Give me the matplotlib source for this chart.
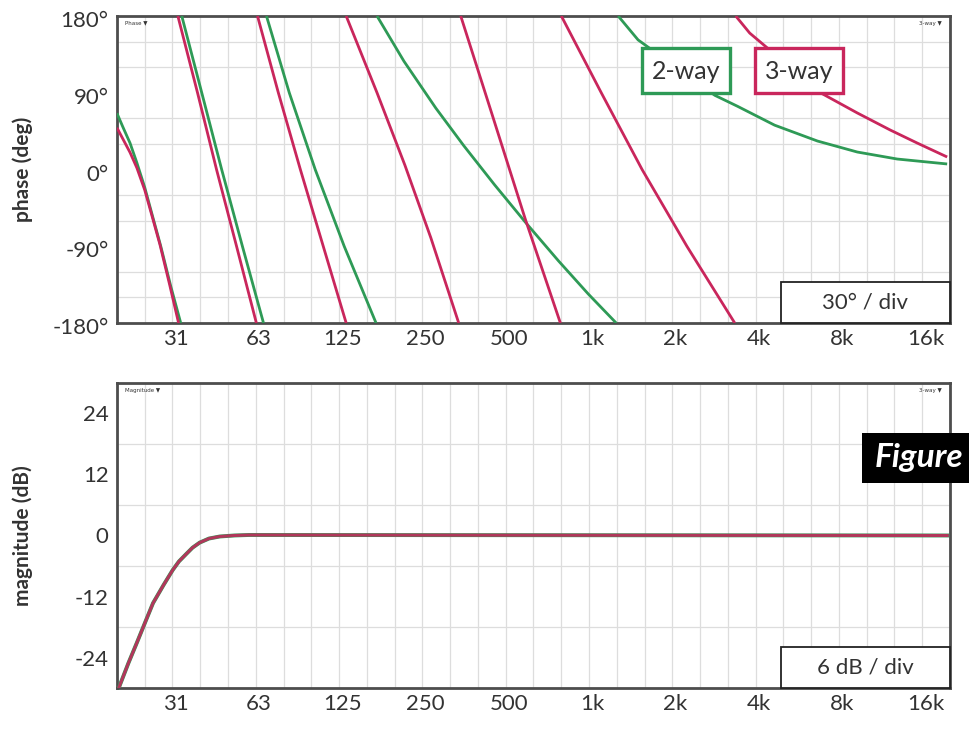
import matplotlib.pyplot as plt
from matplotlib.patches import Rectangle
from matplotlib.ticker import NullFormatter
from matplotlib.transforms import ScaledTranslation

plt.rcParams['font.family'] = ['Lato', 'DejaVu Sans']

GREEN = '#2e9a56'
RED = '#c9265c'
INK = '#333333'
FRAME = '#4d4d4d'

# octave ticks along the frequency axis
tick_freqs = [31.25, 62.5, 125, 250, 500, 1000, 2000, 4000, 8000, 16000]
tick_labels = ['31', '63', '125', '250', '500', '1k', '2k', '4k', '8k', '16k']

# wrapped phase, one (freq Hz, deg) pair of lists per branch
phase_2way = [
    ([20.0, 21.0, 22.3, 23.6, 25.2, 26.7, 28.8, 31.3, 34.0],
     [66, 50, 31, 8, -21, -51, -90, -137, -180]),
    ([34.3, 40.5, 47.8, 56.8, 67.7], [180, 90, 0, -90, -180]),
    ([69.4, 83.9, 104.1, 132.5, 172.7], [180, 90, 0, -90, -180]),
    ([174.1, 217.8, 284, 358.2, 463.2, 599, 787.4, 1010, 1274],
     [180, 127, 72, 28, -18, -62, -107, -146, -180]),
    ([1295, 1528, 2894, 3502, 4760, 6798, 9472, 13200, 20000],
     [180, 152, 87, 74, 52, 33.4, 20.5, 12.3, 6.5]),
]
phase_3way = [
    ([20.0, 21.0, 22.3, 23.6, 25.2, 26.7, 28.6, 31.0, 33.4],
     [49, 36, 20, 2, -24, -53, -88, -135, -180]),
    ([33.2, 39.1, 45.8, 54.1, 63.8], [180, 90, 0, -90, -180]),
    ([64.4, 76.6, 92.0, 111.3, 134.7], [180, 90, 0, -90, -180]),
    ([134.7, 174.1, 219.6, 272.4, 343.6], [180, 90, 5, -80, -180]),
    ([349.4, 448, 599, 800.6], [180, 70, -59, -180]),
    ([807, 1125, 1580, 2294, 3416], [180, 90, 0, -90, -180]),
    ([3444, 3868, 6970, 9472, 12456, 15576, 20000],
     [180, 160, 90, 66.3, 46.3, 31.1, 14.7]),
]

# magnitude (same for both systems)
mag_freq = [20.3, 22.0, 23.6, 25.5, 27.0, 29.5, 31.8, 33.5, 35.5, 37.5, 39.8,
            43.0, 47.0, 53.0, 60.0, 20000]
mag_db = [-30, -25.1, -21.1, -16.6, -13.3, -9.7, -6.8, -5.1, -3.7, -2.4, -1.4,
          -0.6, -0.2, 0.0, 0.1, 0.0]

phase_ticks = [-180, -90, 0, 90, 180]
mag_ticks = [-24, -12, 0, 12, 24]

fig = plt.figure(figsize=(9.69, 7.31), dpi=100)
ax_p = fig.add_axes([0.1207, 0.5581, 0.8597, 0.42])
ax_m = fig.add_axes([0.1207, 0.0588, 0.8597, 0.4173])

third_oct = [20 * 2 ** (k / 3) for k in range(31)]


def setup(ax, yticks, ylabels, ystep, ylim, ylabel, corner_name, div_text, ydrop):
    ax.set_xscale('log')
    ax.set_xlim(20, 20000)
    ax.set_ylim(*ylim)
    ax.set_xticks(tick_freqs)
    ax.set_xticklabels(tick_labels)
    ax.set_xticks(third_oct, minor=True)
    ax.xaxis.set_minor_formatter(NullFormatter())
    ax.set_yticks(yticks)
    ax.set_yticklabels(ylabels)
    ax.set_yticks(list(range(ylim[0], ylim[1] + 1, ystep)), minor=True)
    ax.yaxis.set_minor_formatter(NullFormatter())
    ax.grid(which='minor', color='#dddddd', lw=0.9)
    ax.grid(which='major', visible=False)
    ax.tick_params(which='both', length=0, labelsize=16, colors=INK)
    ax.tick_params(axis='x', pad=4)
    ax.tick_params(axis='y', pad=6)
    xshift = ScaledTranslation(5 / 100, 0, fig.dpi_scale_trans)
    for lab in ax.get_xticklabels():
        lab.set_transform(lab.get_transform() + xshift)
    yshift = ScaledTranslation(0, -ydrop / 100, fig.dpi_scale_trans)
    for lab in ax.get_yticklabels():
        lab.set_transform(lab.get_transform() + yshift)
    for s in ax.spines.values():
        s.set_color(FRAME)
        s.set_linewidth(2)
    ax.set_ylabel(ylabel, fontsize=15, fontweight='bold', color=INK)
    ax.yaxis.set_label_coords(-0.113, 0.5)
    ax.yaxis.label.set_verticalalignment('center')
    ax.text(0.01, 0.985, corner_name + ' \u25bc', transform=ax.transAxes,
            fontsize=4, color=INK, ha='left', va='top', family='DejaVu Sans')
    ax.text(0.99, 0.985, '3-way \u25bc', transform=ax.transAxes,
            fontsize=4, color=INK, ha='right', va='top', family='DejaVu Sans')
    ax.add_patch(Rectangle((0.797, 0.0), 0.203, 0.135, transform=ax.transAxes,
                           facecolor='white', edgecolor='#222222', lw=1.3,
                           zorder=5, clip_on=False))
    ax.text(0.8985, 0.067, div_text, transform=ax.transAxes, fontsize=16,
            color=INK, ha='center', va='center', zorder=6)


# phase panel
for f, ph in phase_2way:
    ax_p.plot(f, ph, color=GREEN, lw=2.0, zorder=3, solid_capstyle='butt')
for f, ph in phase_3way:
    ax_p.plot(f, ph, color=RED, lw=2.0, zorder=3, solid_capstyle='butt')
setup(ax_p, phase_ticks, [f'{t}\u00b0' for t in phase_ticks], 30, (-180, 180),
      'phase (deg)', 'Phase', '30\u00b0 / div', 3)

for x0, col, name in [(0.630, GREEN, '2-way'), (0.766, RED, '3-way')]:
    ax_p.add_patch(Rectangle((x0, 0.749), 0.106, 0.147, transform=ax_p.transAxes,
                             facecolor='white', edgecolor=col, lw=2.4, zorder=5))
    ax_p.text(x0 + 0.053, 0.82, name, transform=ax_p.transAxes, fontsize=18,
              color=INK, ha='center', va='center', zorder=6)

# magnitude panel
ax_m.plot(mag_freq, mag_db, color=GREEN, lw=2.8, zorder=3)
ax_m.plot(mag_freq, mag_db, color=RED, lw=2.2, alpha=0.85, zorder=4)
setup(ax_m, mag_ticks, [str(t) for t in mag_ticks], 6, (-30, 30),
      'magnitude (dB)', 'Magnitude', '6 dB / div', 0)

# caption tab running off the right edge
fig.add_artist(Rectangle((0.8896, 0.3393), 0.12, 0.0684, transform=fig.transFigure,
                         facecolor='black', edgecolor='none', zorder=10))
fig.text(0.903, 0.3735, 'Figure', color='white', fontsize=24, fontstyle='italic',
         fontweight='bold', ha='left', va='center', zorder=11)

fig.savefig('out.png', dpi=100, facecolor='white')
